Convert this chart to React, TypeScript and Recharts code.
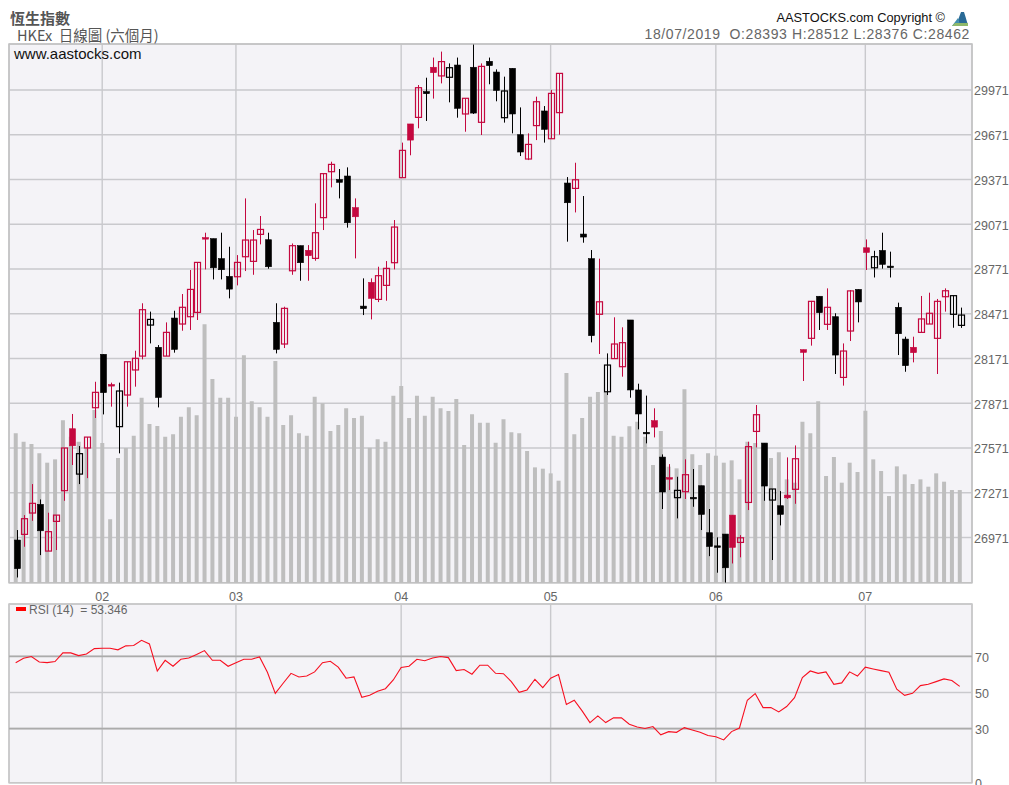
import React from "react";
import {
  ComposedChart, LineChart, Bar, Line, XAxis, YAxis, CartesianGrid, ReferenceLine, ReferenceArea,
} from "recharts";

const monthTicks = [11, 28, 49, 68, 89, 108];
const monthLabels: Record<number, string> = { 11: "02", 28: "03", 49: "04", 68: "05", 89: "06", 108: "07" };
const priceTicks = [26971, 27271, 27571, 27871, 28171, 28471, 28771, 29071, 29371, 29671, 29971];
const rsiTicks = [0, 30, 50, 70];

const opens = [26954,26992,27135,27193,26880,27079,27285,27700,27396,27571,27841,28199,27990,27714,27926,28094,28187,28395,28246,28187,28442,28402,28451,28480,28975,28974,28840,28721,28719,28853,28822,29003,28967,28413,28268,28759,28927,28896,28842,29115,29423,29370,29394,29182,28505,28681,28567,28661,28813,29383,29743,29787,29960,30123,30065,30056,30138,29810,30123,29754,30163,30091,29785,30116,29671,29508,29732,29830,29644,29819,29347,29311,28985,28840,28467,27948,28170,28116,28429,27960,27676,27754,27510,27366,27238,27278,27240,27318,27003,26915,26994,27121,26938,27206,27682,27604,27222,27184,27255,27294,28230,28306,28588,28400,28451,28044,28355,28634,28913,28779,28895,28790,28514,28301,28246,28346,28402,28306,28585,28467,28393];
const highs = [27021,27121,27329,27226,27137,27121,27571,27799,27584,27644,28015,28199,28009,28009,28149,28223,28541,28485,28261,28413,28491,28603,28764,28815,29014,28974,29014,28920,28864,29244,29032,29126,29014,28541,28518,28942,28927,28931,29211,29410,29490,29441,29452,29244,28708,28708,28786,28824,29099,29618,29743,30004,30053,30188,30228,30149,30188,29915,30275,30149,30188,30109,30060,30116,29854,29680,29926,29863,29971,30082,29387,29483,29260,28898,28840,28205,28447,28380,28429,28002,27922,27837,27528,27463,27378,27495,27430,27318,27162,26972,26994,27121,26987,27613,27859,27604,27296,27282,27508,27588,28230,28557,28588,28641,28474,28272,28630,28634,28969,28893,29014,28887,28545,28317,28317,28590,28612,28570,28641,28592,28512];
const lows = [26703,26909,27083,26853,26880,26887,27217,27457,27329,27369,27772,27796,27848,27535,27848,27982,28165,28272,27843,28187,28210,28357,28362,28429,28768,28701,28701,28574,28661,28757,28732,28936,28773,28205,28241,28732,28692,28692,28826,29032,29318,29244,29048,28842,28462,28433,28549,28558,28768,29383,29533,29714,29763,29913,30015,29888,29785,29691,29810,29669,30009,29895,29752,29680,29528,29501,29635,29618,29644,29671,28954,29150,28947,28279,28201,27926,28170,28049,27908,27696,27602,27642,27162,27289,27099,27229,27177,27021,26846,26735,26668,26797,26838,27155,27575,27217,26820,27052,27229,27197,28020,28257,28362,28362,28067,27989,28288,28413,28764,28714,28773,28714,28194,28082,28145,28346,28402,28067,28485,28377,28376];
const closes = [26762,27097,27200,27016,27010,27121,27571,27586,27533,27644,27944,27942,27996,27953,28149,28172,28498,28433,27910,28346,28232,28514,28634,28815,28981,28779,28766,28636,28815,28965,28965,29036,28786,28232,28507,28927,28813,28860,29014,29410,29472,29352,29081,29121,28522,28574,28726,28775,29052,29566,29635,29986,29946,30087,30161,30120,29848,29915,29816,30129,30134,29968,29964,29810,29555,29606,29892,29707,29948,30082,29215,29369,29005,28324,28551,28127,28268,28277,27960,27799,27666,27711,27276,27372,27287,27392,27232,27126,26911,26907,26768,26905,26969,27580,27794,27316,27296,27126,27237,27499,28212,28554,28478,28514,28194,28221,28624,28550,28882,28853,28802,28782,28337,28123,28210,28436,28474,28554,28625,28592,28462];
const gainFlags = "krrkrrrrkrrkrkrrrkkrkrrrrkkkrrrrkkrrkrrrrkkrkrrrrrrrkrrkkrkrkkkkkrrkrrkrkkrkrrkkkrkrkrkkkkkrrrrkkkrrrrkrkrrkrkkkkkrrrrrkk";
const volumes = [448,423,416,388,360,370,487,438,423,403,518,419,190,374,404,441,555,476,470,438,445,498,526,502,775,611,555,555,498,682,544,526,498,665,473,502,448,441,558,538,455,473,523,494,501,405,430,423,561,590,494,561,501,558,523,515,551,413,505,480,480,420,490,451,448,395,346,342,328,306,629,445,494,558,572,572,441,438,469,483,438,353,455,348,343,580,385,353,388,381,360,367,310,423,419,408,374,391,310,300,483,448,544,320,377,300,360,332,516,370,335,260,349,325,296,310,288,328,303,278,278];
const rsiValues = [66.5,68.9,69.9,66.9,66.5,67.1,71.9,71.9,70.4,71.3,74.3,74.5,74.5,73.6,75.8,76,78.9,76.9,61.9,67.8,64.5,68.4,69.1,71,73.2,67.8,67.8,64.5,66.5,68.4,68.4,69.7,61.2,49.5,55.1,60.6,58.6,59.1,61.4,66.5,67.3,64,57.9,58.6,47.3,48.4,50.7,52.1,56.9,63.8,64.5,68.4,67.6,69.1,69.9,69.3,62.1,62.7,60.1,65.1,65.1,60.6,60.4,56,50.1,51.4,57.3,52.7,57.9,59.9,43.3,45.7,39.8,33.3,37,33.3,35.9,35.9,32.4,30.9,30,31.1,26.5,28.3,27.9,30.5,29.2,27.9,26.1,25.5,23.7,28.3,30.3,45.7,49.4,41.6,41.6,39.2,42.2,47.1,58.2,61.9,60.6,61.4,54.5,55.3,61.4,59.1,64,63,62.1,61.2,51.8,48.4,49.5,53.8,54.5,56,57.5,56.6,53.346];

const rows = opens.map((o, i) => ({
  i, open: o, high: highs[i], low: lows[i], close: closes[i],
  gain: gainFlags[i] === "r", volume: volumes[i], range: [lows[i], highs[i]] as [number, number],
}));
const rsiRows = rsiValues.map((rsi, i) => ({ i, rsi }));

const SANS = "'Liberation Sans', Arial, sans-serif";
const CJK = "'Noto Sans CJK TC', sans-serif";
const PANEL = "#f4f3f7";
const GRID = "#c9c9cd";
const TICK = { fill: "#666", fontSize: 12.5, fontFamily: SANS };
const W = 1009;
const slotDomain: [number, number] = [-0.848, 121.56];
const candleDomain: [number, number] = [-1.013, 121.40];

function Candle(props: any) {
  const { x, y, width, height, payload } = props;
  if (height == null || !payload) return null;
  const perUnit = height / (payload.high - payload.low);
  const cx = Math.round(x + width / 2 - 0.5);
  const color = payload.gain ? "#c4083f" : "#000";
  const topVal = Math.max(payload.open, payload.close);
  const botVal = Math.min(payload.open, payload.close);
  const top = y + (payload.high - topVal) * perUnit;
  const h = (topVal - botVal) * perUnit;
  const hollow = payload.close >= payload.open && h >= 3;
  return (
    <g>
      <line x1={cx + 0.5} x2={cx + 0.5} y1={y} y2={y + height} stroke={color} strokeWidth={1} />
      <rect
        x={cx - 2.5} y={top} width={6} height={Math.max(h, 1.5)}
        fill={hollow ? "none" : color} stroke={color} strokeWidth={hollow ? 1.2 : 0.6}
      />
    </g>
  );
}

function Logo() {
  return (
    <svg width={18} height={16} style={{ position: "absolute", left: 951, top: 11 }} viewBox="0 0 18 16">
      <polygon points="10,1 13,1 17,14 9,14 7,9" fill="#2a6a96" />
      <polygon points="1,15 7,7 9,15" fill="#3f8fb0" />
      <polygon points="1,15 17,15 17,12 4,12" fill="#8fb86a" />
    </svg>
  );
}

const textStyle = (left: number | null, top: number, extra: React.CSSProperties = {}): React.CSSProperties => ({
  position: "absolute", top, ...(left == null ? {} : { left }), whiteSpace: "pre", fontFamily: SANS, lineHeight: "15px", ...extra,
});

export default function App() {
  return (
    <div style={{ position: "absolute", left: 0, top: 0, width: W, height: 785, overflow: "hidden", background: "#fff" }}>
      <div style={{ position: "absolute", left: 0, top: 0 }}>
        <ComposedChart width={W} height={604} data={rows} margin={{ top: 44, right: 0, bottom: 0, left: 9 }} barGap={0}>
          <CartesianGrid xAxisId="slot" yAxisId="price" fill={PANEL} stroke={GRID} strokeWidth={1.4} />
          <XAxis xAxisId="slot" dataKey="i" type="number" domain={slotDomain} allowDataOverflow ticks={monthTicks}
            tickFormatter={(v: number) => monthLabels[v]} tick={TICK} axisLine={false} tickLine={false} tickSize={0} tickMargin={9} height={21.3} interval={0} />
          <XAxis xAxisId="candle" dataKey="i" type="number" domain={candleDomain} allowDataOverflow hide height={0} />
          <YAxis yAxisId="price" orientation="right" type="number" domain={[26668, 30279]} allowDataOverflow ticks={priceTicks}
            tick={{ ...TICK, dy: 1 }} axisLine={false} tickLine={false} tickSize={0} tickMargin={2} width={37} interval={0} />
          <YAxis yAxisId="vol" hide type="number" domain={[0, 1616]} allowDataOverflow />
          <Bar xAxisId="slot" yAxisId="vol" dataKey="volume" fill="#bebebe" barSize={4} isAnimationActive={false} />
          <Bar xAxisId="candle" yAxisId="price" dataKey="range" barSize={6} shape={<Candle />} isAnimationActive={false} />
          <ReferenceArea xAxisId="slot" yAxisId="price" x1={slotDomain[0]} x2={slotDomain[1]} y1={26668} y2={30279}
            fill="none" fillOpacity={0} stroke="#c2c2c2" strokeWidth={1.5} ifOverflow="extendDomain" />
        </ComposedChart>
      </div>
      <div style={{ position: "absolute", left: 0, top: 600 }}>
        <LineChart width={W} height={185} data={rsiRows} margin={{ top: 4, right: 0, bottom: 2.3, left: 9 }}>
          <CartesianGrid fill={PANEL} stroke={GRID} strokeWidth={1.4} />
          <XAxis dataKey="i" type="number" domain={slotDomain} allowDataOverflow ticks={monthTicks} hide height={0} />
          <YAxis orientation="right" type="number" domain={[0, 99]} allowDataOverflow ticks={rsiTicks}
            tick={{ ...TICK, dy: 1 }} axisLine={false} tickLine={false} tickSize={0} tickMargin={3} width={37} interval={0} />
          <ReferenceLine y={70} stroke="#ababab" strokeWidth={1.8} />
          <ReferenceLine y={30} stroke="#ababab" strokeWidth={1.8} />
          <ReferenceArea x1={slotDomain[0]} x2={slotDomain[1]} y1={0} y2={99}
            fill="none" fillOpacity={0} stroke="#c8c8c8" strokeWidth={1.5} />
          <Line dataKey="rsi" type="linear" stroke="#f70f20" strokeWidth={1.1} dot={false} isAnimationActive={false} />
        </LineChart>
      </div>

      <div style={textStyle(10, 10, { fontFamily: CJK, fontWeight: 700, fontSize: 15, color: "#555" })}>恆生指數</div>
      <div style={textStyle(17, 27, { fontFamily: CJK, fontSize: 14.5, color: "#555" })}>HKEx  日線圖 (六個月)</div>
      <div style={textStyle(14, 46, { fontSize: 15, color: "#111" })}>www.aastocks.com</div>
      <div style={textStyle(null, 10, { right: 64, fontSize: 12.8, color: "#111" })}>AASTOCKS.com Copyright ©</div>
      <div style={textStyle(null, 27, { right: 39, fontSize: 14, color: "#666", letterSpacing: 0.6 })}>18/07/2019  O:28393 H:28512 L:28376 C:28462</div>
      <Logo />
      <div style={{ position: "absolute", left: 16, top: 607, width: 10, height: 4, background: "#f00" }} />
      <div style={textStyle(29, 603, { fontSize: 12, color: "#666" })}>RSI (14)  = 53.346</div>
    </div>
  );
}
